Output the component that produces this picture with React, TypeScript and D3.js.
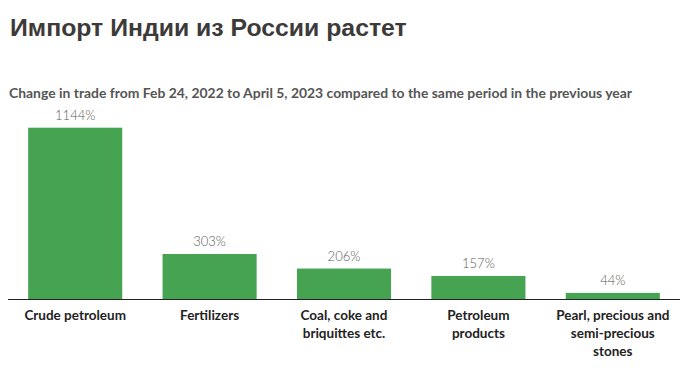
import React from "react";
import * as d3 from "d3";

const categories = [
  "Crude petroleum",
  "Fertilizers",
  "Coal, coke and briquittes etc.",
  "Petroleum products",
  "Pearl, precious and semi-precious stones",
];
const categoryLines = [
  ["Crude petroleum"],
  ["Fertilizers"],
  ["Coal, coke and", "briquittes etc."],
  ["Petroleum", "products"],
  ["Pearl, precious and", "semi-precious", "stones"],
];
const values = [1144, 303, 206, 157, 44];
const valueLabels = ["1144%", "303%", "206%", "157%", "44%"];

const title = "Импорт Индии из России растет";
const subtitle =
  "Change in trade from Feb 24, 2022 to April 5, 2023 compared to the same period in the previous year";

export default function App() {
  const W = 699;
  const H = 377;
  const x0 = 8;
  const x1 = 680;
  const baseY = 299.5;
  const topY = 127.7;

  const x = d3
    .scaleBand<string>()
    .domain(categories)
    .range([x0, x1])
    .paddingInner(0.3)
    .paddingOuter(0.15);
  const y = d3.scaleLinear().domain([0, 1144]).range([baseY, topY]);

  return (
    <svg
      width={W}
      height={H}
      style={{ position: "absolute", left: 0, top: 0, background: "#fff" }}
    >
      <text
        x={10}
        y={36}
        fontFamily="'Liberation Sans', Arial, sans-serif"
        fontWeight={700}
        fontSize={24.8}
        fill="#3d3a3a"
      >
        {title}
      </text>
      <text
        x={9}
        y={98}
        fontFamily="Lato, 'Open Sans', sans-serif"
        fontWeight={700}
        fontSize={14}
        fill="#555"
        textLength={623}
        lengthAdjust="spacingAndGlyphs"
      >
        {subtitle}
      </text>
      {categories.map((c, i) => {
        const bx = x(c)!;
        const by = y(values[i]);
        return (
          <g key={c}>
            <rect
              x={bx}
              y={by}
              width={x.bandwidth()}
              height={baseY - by}
              fill="#46a352"
            />
            <text
              x={bx + x.bandwidth() / 2}
              y={by - 8}
              textAnchor="middle"
              fontFamily="Lato, 'Open Sans', sans-serif"
              fontWeight={300}
              fontSize={13}
              fill="#5a5a5a"
            >
              {valueLabels[i]}
            </text>
            {categoryLines[i].map((ln, j) => (
              <text
                key={j}
                x={bx + x.bandwidth() / 2}
                y={320 + j * 18}
                textAnchor="middle"
                fontFamily="Lato, 'Open Sans', sans-serif"
                fontWeight={700}
                fontSize={13.5}
                fill="#222"
              >
                {ln}
              </text>
            ))}
          </g>
        );
      })}
      <line x1={x0} x2={x1} y1={baseY} y2={baseY} stroke="#222" strokeWidth={1.2} />
    </svg>
  );
}
